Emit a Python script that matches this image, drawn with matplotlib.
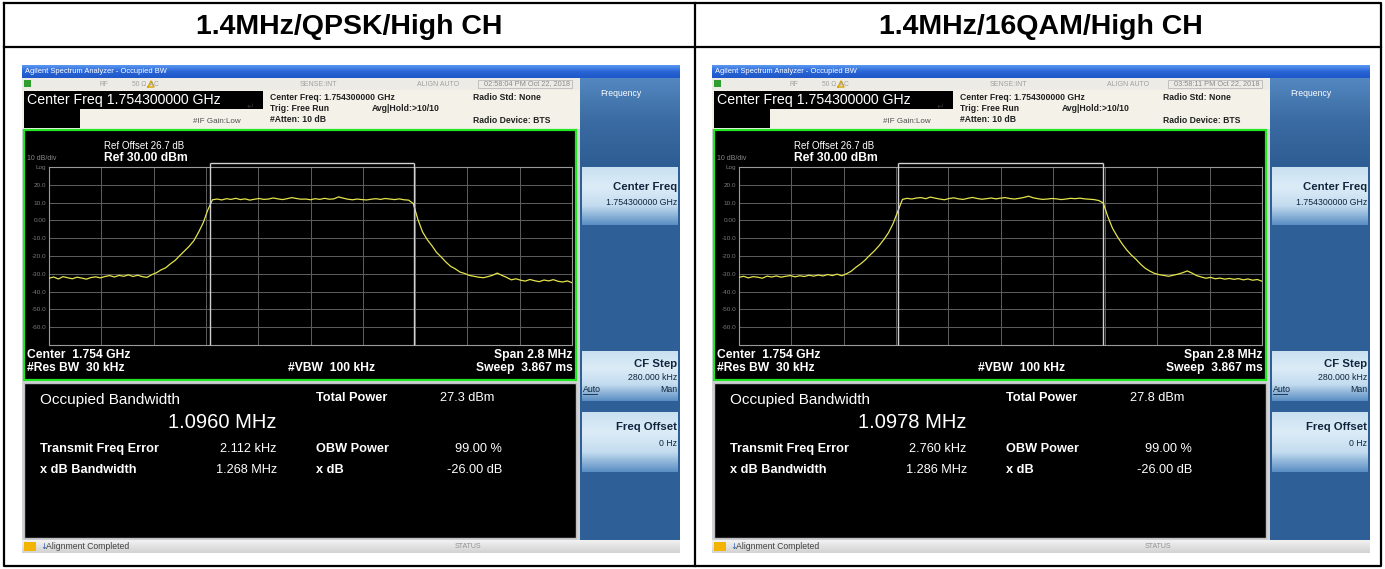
import numpy as np
import matplotlib
matplotlib.use('Agg')
import matplotlib.pyplot as plt
from matplotlib.patches import Rectangle
from matplotlib.colors import LinearSegmentedColormap

plt.rcParams['font.family'] = ['Liberation Sans', 'DejaVu Sans']

# frequency offset from the centre frequency, MHz (span 2.8 MHz)
freq_mhz = np.linspace(-1.4, 1.4, 113)

# trace levels, dBm
qpsk_dbm = [-32.5, -31.8, -32.9, -31.6, -32.2, -32.8, -31.9, -32.4, -33.0, -32.1,
            -31.7, -32.3, -31.5, -31.0, -31.8, -30.9, -31.4, -30.6, -31.5, -30.8,
            -31.6, -32.0, -30.5, -29.4, -27.8, -26.6, -24.4, -22.5, -19.8, -17.2,
            -14.6, -11.5, -6.8, -1.5, 5.8, 11.6, 12.0, 11.5, 12.2, 11.8,
            12.4, 11.7, 12.1, 11.4, 11.9, 12.3, 11.8, 12.0, 12.6, 12.1,
            11.7, 12.2, 12.8, 12.3, 11.9, 12.0, 11.6, 12.2, 11.8, 12.4,
            11.9, 12.1, 13.2, 12.5, 11.9, 11.6, 12.0, 11.7, 11.5, 11.9,
            12.2, 11.8, 12.3, 12.0, 11.7, 12.1, 11.6, 11.4, 9.5, 0.5,
            -6.5, -10.8, -14.2, -18.0, -20.6, -23.4, -25.8, -27.2, -29.0, -29.8,
            -30.9, -31.4, -31.9, -32.2, -31.6, -30.8, -29.6, -30.9, -32.0, -33.4,
            -32.8, -33.6, -34.1, -33.2, -33.9, -34.4, -33.5, -34.0, -33.3, -34.2,
            -34.6, -34.0, -35.0]
qam16_dbm = [-32.0, -31.4, -32.3, -31.6, -31.9, -32.5, -31.3, -31.8, -31.2, -31.9,
             -31.4, -31.0, -31.7, -31.1, -31.5, -30.8, -31.3, -30.7, -31.2, -30.4,
             -31.0, -30.2, -31.1, -30.0, -28.6, -26.4, -24.5, -22.3, -19.6, -17.1,
             -14.2, -10.8, -7.0, -1.8, 5.0, 11.8, 12.4, 12.0, 12.6, 12.8,
             12.2, 13.1, 12.5, 12.0, 11.6, 12.3, 12.7, 12.1, 11.8, 12.4,
             12.9, 12.3, 11.9, 12.2, 12.6, 12.1, 12.5, 12.8, 12.3, 12.0,
             12.4, 12.9, 13.6, 12.7, 12.2, 11.8, 12.0, 12.3, 12.1, 11.7,
             12.0, 12.4, 12.2, 12.5, 12.1, 11.9, 11.7, 11.2, 9.8, 2.0,
             -4.5, -9.0, -13.0, -16.5, -19.4, -21.8, -24.6, -26.9, -28.5, -29.8,
             -30.5, -30.9, -31.4, -30.8, -30.2, -29.4, -28.4, -29.6, -31.0, -31.8,
             -32.5, -32.0, -32.8, -32.4, -33.0, -32.6, -33.1, -32.7, -33.4, -32.9,
             -33.6, -33.2, -34.2]

titles = ['1.4MHz/QPSK/High CH', '1.4MHz/16QAM/High CH']
traces = [qpsk_dbm, qam16_dbm]
obw_edges = [(-0.540, 0.556), (-0.547, 0.551)]
occ_bw = ['1.0960 MHz', '1.0978 MHz']
total_power = ['27.3 dBm', '27.8 dBm']
freq_error = ['2.112 kHz', '2.760 kHz']
xdb_bw = ['1.268 MHz', '1.286 MHz']
clock = ['02:58:04 PM Oct 22, 2018', '03:58:11 PM Oct 22, 2018']
level_labels = ['', '-60.0', '-50.0', '-40.0', '-30.0', '-20.0', '-10.0', '0.00', '10.0', '20.0', 'Log']

W, H = 1385, 569
fig = plt.figure(figsize=(W / 100, H / 100), dpi=100)
ov = fig.add_axes([0, 0, 1, 1])
ov.axis('off')


def box(x, y, w, h, fc, ec='none', lw=0, z=1):
    ov.add_patch(Rectangle((x, y), w, h, facecolor=fc, edgecolor=ec, linewidth=lw, zorder=z))


def grad(x, y, w, h, colors, z=1):
    cmap = LinearSegmentedColormap.from_list('g', colors)
    ov.imshow(np.linspace(0, 1, 64)[:, None], cmap=cmap, extent=(x, x + w, y + h, y),
              aspect='auto', zorder=z, interpolation='bilinear')


def txt(x, y, s, size=6, color='black', weight='normal', ha='left', z=5, **kw):
    ov.text(x, y, s, fontsize=size, color=color, fontweight=weight, ha=ha, va='center', zorder=z, **kw)


def draw_screen(dx, k):
    x0 = 22 + dx
    # window
    box(x0, 65, 658, 488, '#cfd3d8')
    grad(x0, 65, 658, 13, ['#5a98f2', '#2a66d6', '#1d56c8'], z=2)
    txt(x0 + 3, 71.5, 'Agilent Spectrum Analyzer - Occupied BW', 5.4, 'white')

    # status row
    box(x0, 78, 558, 12, '#ecebe6', z=2)
    box(x0 + 2, 80, 7, 7, '#2f9e2f', z=3)
    txt(x0 + 78, 84, 'RF', 4.8, '#a0a0a0')
    txt(x0 + 110, 84, '50 Ω  AC', 4.8, '#a0a0a0')
    ov.plot([x0 + 126, x0 + 129, x0 + 132, x0 + 126], [87, 81, 87, 87], color='#d8a400', lw=1, zorder=4)
    txt(x0 + 278, 84, 'SENSE:INT', 5, '#a0a0a0')
    txt(x0 + 395, 84, 'ALIGN AUTO', 5, '#a0a0a0')
    box(x0 + 456, 80, 94, 8, 'none', '#b0b0b0', 0.5, z=3)
    txt(x0 + 548, 84, clock[k], 5.3, '#8a8a8a', ha='right')

    # setup info
    box(x0, 90, 558, 39, '#f3f1e8', z=2)
    box(x0 + 2, 91, 239, 18, 'black', z=3)
    txt(x0 + 5, 100, 'Center Freq 1.754300000 GHz', 10.2, 'white', z=6)
    box(x0 + 2, 109, 56, 19, 'black', z=3)
    txt(x0 + 171, 121.5, '#IF Gain:Low', 5.8, '#505050')
    txt(x0 + 225, 106, '↵', 6.5, '#303030', family='DejaVu Sans')
    txt(x0 + 248, 97, 'Center Freq: 1.754300000 GHz', 6.2, '#202020', 'bold')
    txt(x0 + 248, 108, 'Trig: Free Run', 6.2, '#202020', 'bold')
    txt(x0 + 350, 108, 'Avg|Hold:>10/10', 6.2, '#202020', 'bold')
    txt(x0 + 248, 119.5, '#Atten: 10 dB', 6.2, '#202020', 'bold')
    txt(x0 + 451, 97, 'Radio Std: None', 6.2, '#202020', 'bold')
    txt(x0 + 451, 120, 'Radio Device: BTS', 6.2, '#202020', 'bold')

    # graph window
    box(x0 + 2, 130, 552, 250, 'black', '#22e622', 1.6, z=2)
    txt(x0 + 82, 146, 'Ref Offset 26.7 dB', 7, 'white')
    txt(x0 + 82, 157.5, 'Ref 30.00 dBm', 8.7, 'white', 'bold')
    txt(x0 + 5, 158, '10 dB/div', 5, '#8a8a8a')
    txt(x0 + 5, 355, 'Center  1.754 GHz', 8.7, 'white', 'bold')
    txt(x0 + 5, 368, '#Res BW  30 kHz', 8.7, 'white', 'bold')
    txt(x0 + 266, 368, '#VBW  100 kHz', 8.7, 'white', 'bold')
    txt(x0 + 551, 355, 'Span 2.8 MHz', 8.7, 'white', 'bold', ha='right')
    txt(x0 + 551, 368, 'Sweep  3.867 ms', 8.7, 'white', 'bold', ha='right')

    # measurement results
    box(x0 + 2, 383, 552, 155, 'black', '#bfbfbf', 1, z=2)
    txt(x0 + 18, 400, 'Occupied Bandwidth', 11, 'white')
    txt(x0 + 255, 422, occ_bw[k], 14.5, 'white', ha='right')
    txt(x0 + 294, 398, 'Total Power', 9.2, 'white', 'bold')
    txt(x0 + 418, 398, total_power[k], 9.2, 'white')
    txt(x0 + 18, 449, 'Transmit Freq Error', 9.2, 'white', 'bold')
    txt(x0 + 254, 449, freq_error[k], 9.2, 'white', ha='right')
    txt(x0 + 294, 449, 'OBW Power', 9.2, 'white', 'bold')
    txt(x0 + 480, 449, '99.00 %', 9.2, 'white', ha='right')
    txt(x0 + 18, 470, 'x dB Bandwidth', 9.2, 'white', 'bold')
    txt(x0 + 255, 470, xdb_bw[k], 9.2, 'white', ha='right')
    txt(x0 + 294, 470, 'x dB', 9.2, 'white', 'bold')
    txt(x0 + 480, 470, '-26.00 dB', 9.2, 'white', ha='right')

    # softkey panel
    sx = x0 + 558
    box(sx, 78, 100, 462, '#2e5f96', z=2)
    grad(sx, 78, 100, 88, ['#5487c0', '#3a6ba2', '#2d5d93'], z=3)
    txt(sx + 20, 93, 'Frequency', 6.2, 'white')
    for top, h in [(167, 58), (351, 50), (412, 60)]:
        grad(sx + 2, top, 96, h, ['#c9e0f1', '#dcecf7', '#c4dcef', '#5b8fc4'], z=3)
    txt(sx + 97, 187, 'Center Freq', 8.2, '#10253d', 'bold', ha='right')
    txt(sx + 97, 202, '1.754300000 GHz', 6.3, '#10253d', ha='right')
    txt(sx + 97, 364, 'CF Step', 8.2, '#10253d', 'bold', ha='right')
    txt(sx + 97, 377, '280.000 kHz', 6.3, '#10253d', ha='right')
    txt(sx + 3, 389, 'Auto', 6.3, '#10253d')
    ov.plot([sx + 3, sx + 17], [394, 394], color='#10253d', lw=0.6, zorder=5)
    txt(sx + 97, 389, 'Man', 6.3, '#10253d', ha='right')
    txt(sx + 97, 427, 'Freq Offset', 8.2, '#10253d', 'bold', ha='right')
    txt(sx + 97, 443, '0 Hz', 6.3, '#10253d', ha='right')

    # bottom status bar
    grad(x0, 540, 658, 13, ['#f2f2f2', '#d2d2d2'], z=2)
    box(x0 + 2, 542, 12, 9, '#f2b400', z=3)
    txt(x0 + 18, 546.5, '↓', 6, '#2a5db0', family='DejaVu Sans')
    txt(x0 + 24, 546.5, 'Alignment Completed', 6.2, '#404040')
    txt(x0 + 433, 546.5, 'STATUS', 5, '#909090')

    # spectrum trace
    sp = fig.add_axes([(49 + dx) / W, 1 - 345 / H, 523 / W, 178 / H])
    sp.set_facecolor('black')
    sp.plot(freq_mhz, traces[k], color='#e4e44c', lw=0.9, zorder=3)
    sp.set_xlim(-1.4, 1.4)
    sp.set_ylim(-70, 30)
    sp.set_xticks(np.linspace(-1.4, 1.4, 11))
    sp.set_yticks(np.arange(-70, 31, 10))
    sp.set_yticklabels(level_labels)
    sp.grid(color='#5e5e5e', lw=0.7)
    sp.tick_params(length=0, labelbottom=False, labelsize=4.6, labelcolor='#7a7a7a', pad=2)
    for s in sp.spines.values():
        s.set_color('#9a9a9a')
        s.set_linewidth(0.8)
    lo, hi = obw_edges[k]
    sp.vlines([lo, hi], -70, 32, color='#d0d0d0', lw=1, clip_on=False, zorder=4)
    sp.hlines(32, lo, hi, color='#d0d0d0', lw=1, clip_on=False, zorder=4)


# table
for k in range(2):
    draw_screen(690 * k, k)
    ov.text(349 + 692 * k, 27, titles[k], fontsize=20.5, fontweight='bold', ha='center', va='center')

ov.plot([4, 1381, 1381, 4, 4], [3, 3, 566, 566, 3], color='black', lw=1.6, zorder=8)
ov.plot([4, 1381], [47, 47], color='black', lw=1.6, zorder=8)
ov.plot([695, 695], [3, 566], color='black', lw=1.6, zorder=8)

ov.set_xlim(0, W)
ov.set_ylim(H, 0)
fig.savefig('out.png', dpi=100, facecolor='white')
